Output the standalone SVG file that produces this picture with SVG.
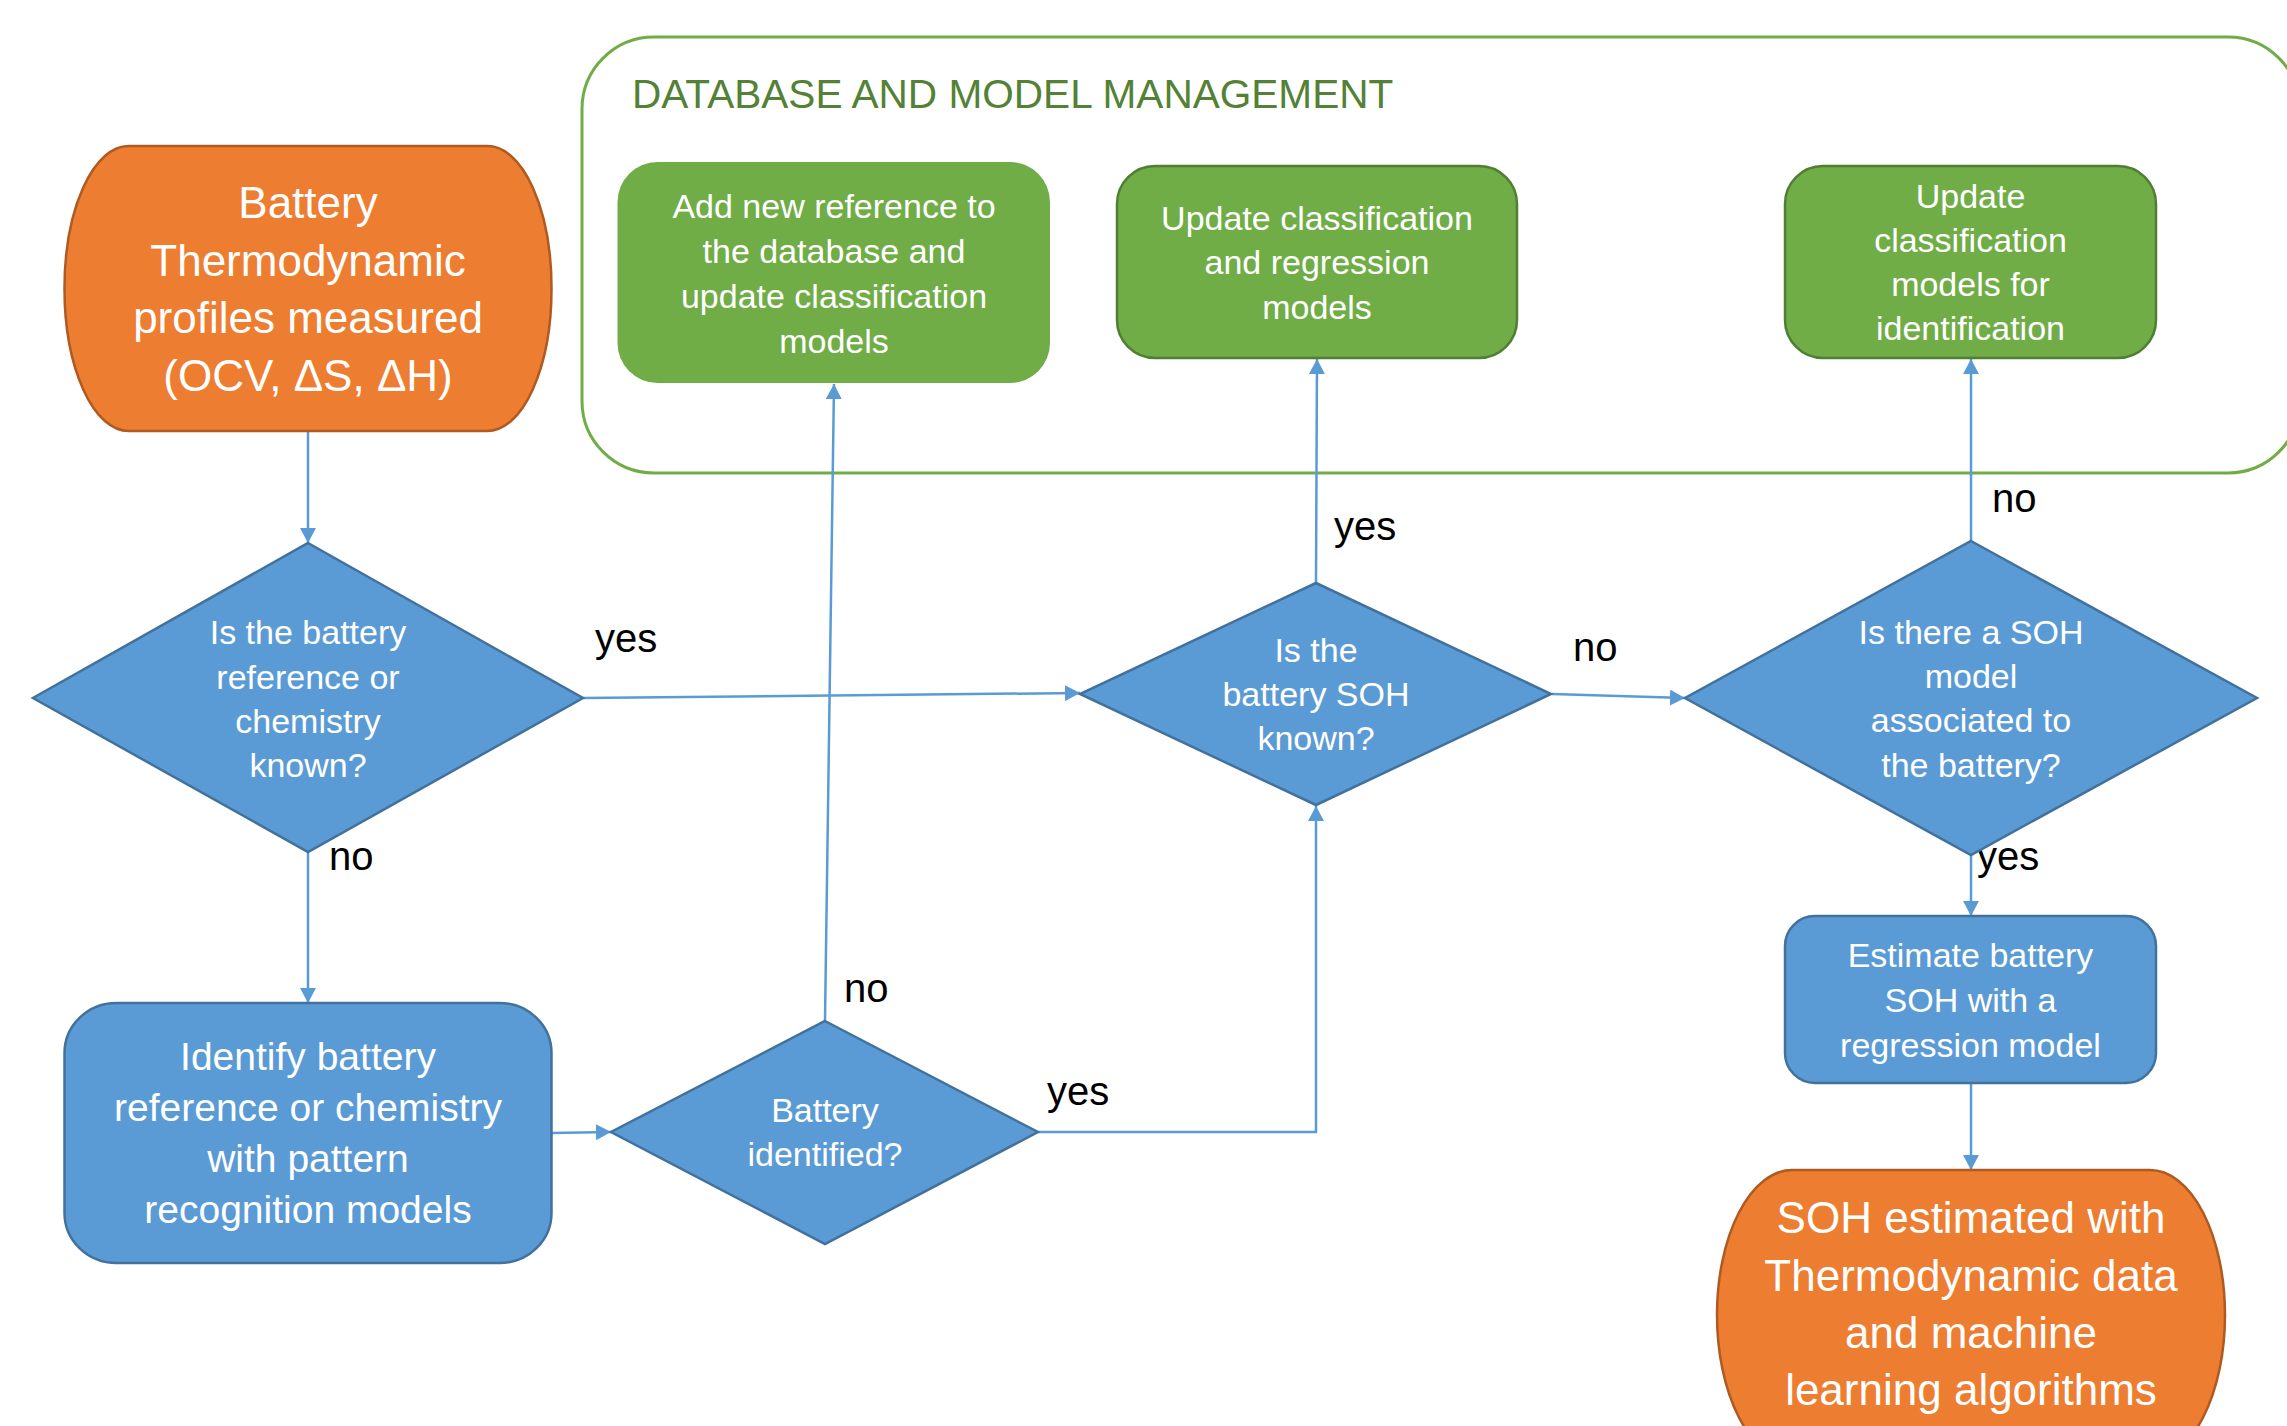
<svg xmlns="http://www.w3.org/2000/svg" width="2287" height="1426" viewBox="0 0 2287 1426">
<style>
  text { font-family: "Liberation Sans", Arial, sans-serif; }
  .w { fill: #FFFFFF; text-anchor: middle; }
  .lbl { fill: #000000; font-size: 40px; }
  .orange { fill: #ED7D31; stroke: #AE5A21; stroke-width: 2.5; }
  .blue { fill: #5B9BD5; stroke: #41719C; stroke-width: 2.5; }
  .green { fill: #70AD47; stroke: #507E32; stroke-width: 2.5; }
  .conn { fill: none; stroke: #5B9BD5; stroke-width: 2.5; marker-end: url(#arrow); }
</style>
<defs>
  <marker id="arrow" markerUnits="userSpaceOnUse" markerWidth="16" markerHeight="16" refX="15" refY="8" orient="auto">
    <path d="M0,0 L15,8 L0,16 z" fill="#5B9BD5"/>
  </marker>
</defs>
<rect width="2287" height="1426" fill="#FFFFFF"/>

<g id="container">
  <rect x="582" y="37" width="1718" height="436" rx="72" ry="72" fill="none" stroke="#70AD47" stroke-width="3"/>
  <text x="632" y="108" font-size="40.6" fill="#538135">DATABASE AND MODEL MANAGEMENT</text>
</g>

<g id="connectors">
  <path class="conn" d="M308,431 L308,543"/>
  <path class="conn" d="M308,852 L308,1003"/>
  <path class="conn" d="M583,698 L1080,693"/>
  <path class="conn" d="M552,1133 L611,1132"/>
  <path class="conn" d="M825,1021 L834,384"/>
  <path class="conn" d="M1038,1132 L1316,1132 L1316,806"/>
  <path class="conn" d="M1316,583 L1317,359"/>
  <path class="conn" d="M1552,694 L1685,698"/>
  <path class="conn" d="M1971,541 L1971,359"/>
  <path class="conn" d="M1971,855 L1971,916"/>
  <path class="conn" d="M1971,1083 L1971,1170"/>
  <text class="lbl" x="595" y="652">yes</text>
  <text class="lbl" x="329" y="870">no</text>
  <text class="lbl" x="844" y="1002">no</text>
  <text class="lbl" x="1047" y="1105">yes</text>
  <text class="lbl" x="1334" y="540">yes</text>
  <text class="lbl" x="1573" y="661">no</text>
  <text class="lbl" x="1992" y="512">no</text>
  <text class="lbl" x="1977" y="870">yes</text>
</g>

<g id="start">
  <rect class="orange" x="64.5" y="146" width="487" height="285" rx="64" ry="142"/>
  <text class="w" font-size="44"><tspan x="308" y="218">Battery</tspan><tspan x="308" y="275.5">Thermodynamic</tspan><tspan x="308" y="333">profiles measured</tspan><tspan x="308" y="390.5">(OCV, ΔS, ΔH)</tspan></text>
</g>

<g id="q-known">
  <polygon class="blue" points="308,543 583,698 308,852 33,698"/>
  <text class="w" font-size="34"><tspan x="308" y="644">Is the battery</tspan><tspan x="308" y="689">reference or</tspan><tspan x="308" y="733">chemistry</tspan><tspan x="308" y="777">known?</tspan></text>
</g>

<g id="identify">
  <rect class="blue" x="64.5" y="1003" width="487" height="260" rx="52" ry="50"/>
  <text class="w" font-size="39"><tspan x="308" y="1070">Identify battery</tspan><tspan x="308" y="1121">reference or chemistry</tspan><tspan x="308" y="1172">with pattern</tspan><tspan x="308" y="1223">recognition models</tspan></text>
</g>

<g id="q-identified">
  <polygon class="blue" points="825,1021 1038,1132 825,1244 611,1132"/>
  <text class="w" font-size="34"><tspan x="825" y="1122">Battery</tspan><tspan x="825" y="1166">identified?</tspan></text>
</g>

<g id="add-ref">
  <rect x="617.5" y="162" width="432.5" height="221" rx="40" ry="40" fill="#70AD47"/>
  <text class="w" font-size="34"><tspan x="834" y="218">Add new reference to</tspan><tspan x="834" y="263">the database and</tspan><tspan x="834" y="308">update classification</tspan><tspan x="834" y="353">models</tspan></text>
</g>

<g id="q-soh">
  <polygon class="blue" points="1316,583 1551,694 1316,805 1080,694"/>
  <text class="w" font-size="34"><tspan x="1316" y="662">Is the</tspan><tspan x="1316" y="706">battery SOH</tspan><tspan x="1316" y="750">known?</tspan></text>
</g>

<g id="update-reg">
  <rect class="green" x="1117" y="166" width="400" height="192" rx="38" ry="38"/>
  <text class="w" font-size="34"><tspan x="1317" y="230">Update classification</tspan><tspan x="1317" y="274">and regression</tspan><tspan x="1317" y="319">models</tspan></text>
</g>

<g id="q-model">
  <polygon class="blue" points="1971,541 2257,698 1971,855 1685,698"/>
  <text class="w" font-size="34"><tspan x="1971" y="644">Is there a SOH</tspan><tspan x="1971" y="688">model</tspan><tspan x="1971" y="732">associated to</tspan><tspan x="1971" y="777">the battery?</tspan></text>
</g>

<g id="update-id">
  <rect class="green" x="1785" y="166" width="371" height="192" rx="38" ry="38"/>
  <text class="w" font-size="34"><tspan x="1970.5" y="208">Update</tspan><tspan x="1970.5" y="252">classification</tspan><tspan x="1970.5" y="296">models for</tspan><tspan x="1970.5" y="340">identification</tspan></text>
</g>

<g id="estimate">
  <rect class="blue" x="1785" y="916" width="371" height="167" rx="30" ry="30"/>
  <text class="w" font-size="34"><tspan x="1970.5" y="967">Estimate battery</tspan><tspan x="1970.5" y="1012">SOH with a</tspan><tspan x="1970.5" y="1057">regression model</tspan></text>
</g>

<g id="end">
  <rect class="orange" x="1717" y="1170" width="508" height="290" rx="75" ry="145"/>
  <text class="w" font-size="44"><tspan x="1971" y="1233">SOH estimated with</tspan><tspan x="1971" y="1291">Thermodynamic data</tspan><tspan x="1971" y="1348">and machine</tspan><tspan x="1971" y="1405">learning algorithms</tspan></text>
</g>
</svg>
